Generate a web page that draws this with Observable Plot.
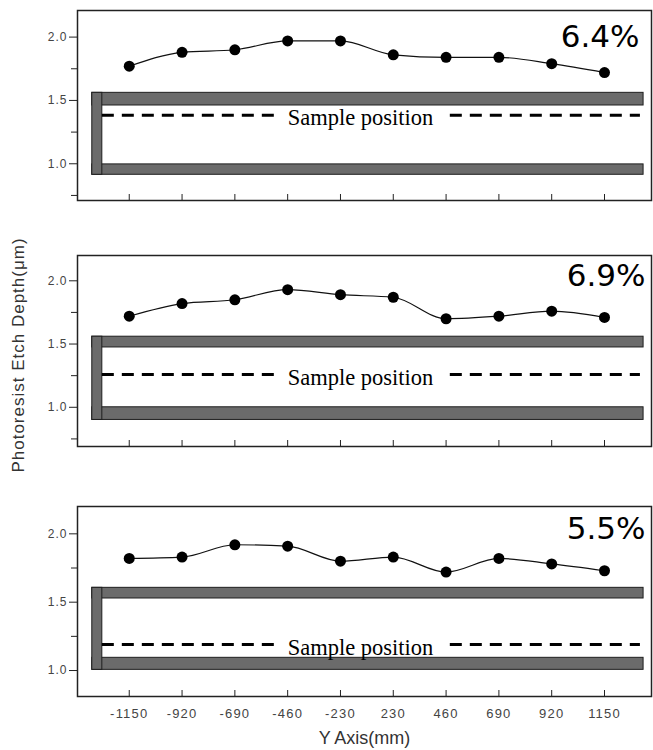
<!DOCTYPE html>
<html><head><meta charset="utf-8">
<script src="https://cdn.jsdelivr.net/npm/d3@7"></script>
<script src="https://cdn.jsdelivr.net/npm/@observablehq/plot@0.6"></script>
<style>
body{margin:0;background:#fff;}
#chart{position:relative;width:653px;height:750px;font-family:"Liberation Sans",Arial,sans-serif;}
#chart svg{display:block;}
#chart g[aria-label="y-axis tick label"]{letter-spacing:1px;}
#chart g[aria-label="x-axis tick label"]{letter-spacing:1.2px;}
.ylab{position:absolute;left:18px;top:355px;transform:translate(-50%,-50%) rotate(-90deg);white-space:nowrap;font-size:17px;line-height:17px;letter-spacing:1px;color:#333;}
</style></head><body><div id="chart"><div class="ylab">Photoresist Etch Depth(μm)</div></div>
<script>
// ---- data ----
const xLabels = ["-1150","-920","-690","-460","-230","230","460","690","920","1150"];
const xIndex = xLabels.map((_, i) => i);
const depthA = [1.77,1.88,1.90,1.97,1.97,1.86,1.84,1.84,1.79,1.72];
const depthB = [1.72,1.82,1.85,1.93,1.89,1.87,1.70,1.72,1.76,1.71];
const depthC = [1.82,1.83,1.92,1.91,1.80,1.83,1.72,1.82,1.78,1.73];
const uniformity = ["6.4%","6.9%","5.5%"];
const sampleY = [1.384,1.26,1.19];
const upperWall = [[1.46,1.56],[1.473,1.558],[1.527,1.605]];
const lowerWall = [[0.913,0.995],[0.90,1.0],[1.005,1.093]];
const yRanges = [[0.71,2.21],[0.69,2.2],[0.81,2.2]];
const majorTicks = [1.0,1.5,2.0];
const minorTicks = [0.75,1.25,1.75];
const chamberSpan = [-0.70,9.74];
const backWall = [-0.70,-0.51];
const dashSpans = [[-0.51,2.8],[6.08,9.68]];
const sampleLabelX = 3.0;

// ---- layout ----
const plotH = [190,191,190];
const marginB = [45,50,54];
const pctDx = [-12,-6,-6];
const pctDy = [14,8,10];

const chart = document.getElementById("chart");
const barStyle = {fill:"#6b6b6b", stroke:"#1e1e1e", strokeWidth:1};

function panel(k){
  const values = [depthA,depthB,depthC][k];
  const pts = values.map((v,i)=>({i, v}));
  const last = k === 2;
  const h = plotH[k];
  const [y0,y1] = yRanges[k];
  const minor = minorTicks.filter(t => t >= y0 && t <= y1);
  const hBars = [upperWall[k], lowerWall[k]].map(([a,b]) => ({x1:chamberSpan[0], x2:chamberSpan[1], y1:a, y2:b}));
  const wall = [{x1:backWall[0], x2:backWall[1], y1:lowerWall[k][0], y2:upperWall[k][1]}];
  const dashes = dashSpans.map(([a,b]) => ({x1:a, x2:b, y:sampleY[k]}));
  const marks = [
    Plot.rect(hBars, {x1:"x1", x2:"x2", y1:"y1", y2:"y2", ...barStyle}),
    Plot.rect(wall, {x1:"x1", x2:"x2", y1:"y1", y2:"y2", ...barStyle}),
    Plot.ruleY(dashes, {y:"y", x1:"x1", x2:"x2", stroke:"#000", strokeWidth:3, strokeDasharray:"12,8"}),
    Plot.text([{x:sampleLabelX, y:sampleY[k], t:"Sample position"}], {x:"x", y:"y", text:"t", textAnchor:"start", lineAnchor:"middle", dy:3, fontFamily:"Liberation Serif, Times New Roman, serif", fontSize:22.5, fill:"#000"}),
    Plot.line(pts, {x:"i", y:"v", curve:"monotone-x", stroke:"#111", strokeWidth:1.2}),
    Plot.dot(pts, {x:"i", y:"v", r:5.5, fill:"#000", stroke:"none"}),
    Plot.text([uniformity[k]], {frameAnchor:"top-right", textAnchor:"end", lineAnchor:"top", dx:pctDx[k], dy:pctDy[k], fontSize:31, fontFamily:"DejaVu Sans, sans-serif", fill:"#000"}),
    Plot.axisY(majorTicks, {tickSize:8, tickPadding:2, fontSize:12, fill:"#444", stroke:"#222", label:null, tickFormat:d3.format(".1f")}),
    Plot.axisY(minor, {tickSize:6, stroke:"#222", label:null, tickFormat:() => ""}),
    Plot.tickX(xIndex, {x:d => d, insetTop:h-6, stroke:"#222"}),
    Plot.frame({stroke:"#222", strokeWidth:1.5})
  ];
  if (last) {
    marks.push(Plot.axisX(xIndex, {tickSize:0, tickPadding:12, tickFormat:i => xLabels[i], fontSize:13, fill:"#444", label:null}));
    marks.push(Plot.text(["Y Axis(mm)"], {frameAnchor:"bottom", lineAnchor:"middle", dy:42, fontSize:18, fill:"#333", fontFamily:"Liberation Sans, Arial, sans-serif"}));
  }
  return Plot.plot({
    width:653, height:10 + h + marginB[k],
    marginTop:10, marginBottom:marginB[k], marginLeft:77, marginRight:2,
    style:{fontFamily:"Liberation Sans, Arial, sans-serif", background:"transparent", overflow:"visible"},
    x:{domain:[-0.98,9.89], axis: last ? undefined : null},
    y:{domain:[y0,y1]},
    marks
  });
}
for (let k = 0; k < 3; k++) chart.appendChild(panel(k));
</script></body></html>
